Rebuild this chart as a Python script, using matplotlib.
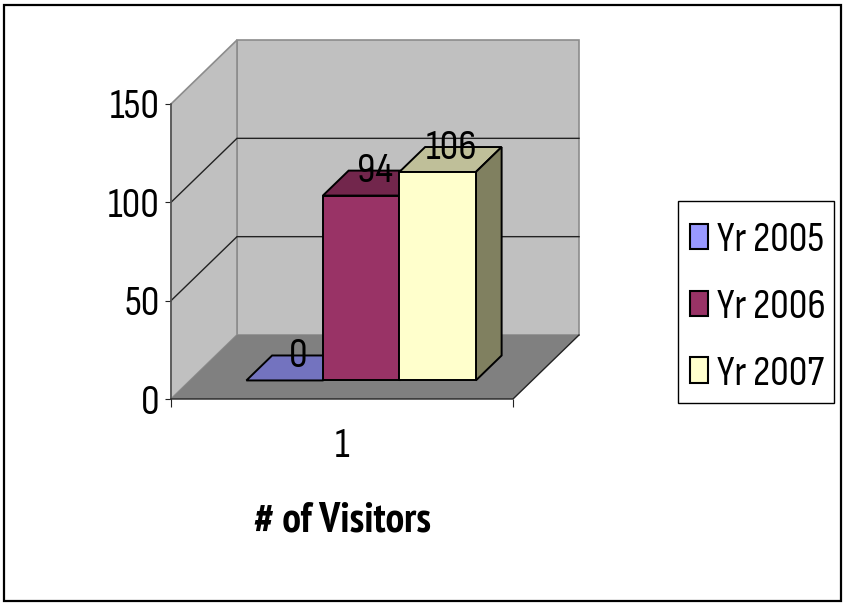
import matplotlib
matplotlib.use("Agg")
import matplotlib.pyplot as plt
from matplotlib import font_manager as fm
from matplotlib.patches import Rectangle, Polygon

series_names = ["Yr 2005", "Yr 2006", "Yr 2007"]
values = [0, 94, 106]
categories = ["1"]
y_ticks = [0, 50, 100, 150]
x_title = "# of Visitors"
front_colors = ["#9999FF", "#993366", "#FFFFCC"]
top_colors = ["#7373BF", "#72264C", "#BFBF99"]
side_colors = ["#7373BF", "#72264C", "#808060"]

names = {f.name for f in fm.fontManager.ttflist}
FONT = next((n for n in ["Sofia Sans Condensed", "Archivo Narrow", "Liberation Sans"] if n in names),
            "DejaVu Sans")
TITLE_FONT = next((n for n in ["PT Sans Narrow", "Roboto Condensed", "Liberation Sans"] if n in names),
                  "DejaVu Sans")
plt.rcParams["font.family"] = [FONT, "Liberation Sans", "DejaVu Sans"]
FS = 30

W, H = 843, 603
fig = plt.figure(figsize=(W / 100, H / 100), dpi=100, facecolor="white")

# outer frame
fig.add_artist(Rectangle((4 / W, 1 - 601 / H), 837 / W, 596 / H, transform=fig.transFigure,
                         fill=False, ec="black", lw=1.6))

# axes occupy the front plane of the 3-D box
L, R, T, B = 171, 513, 104, 399
ax = fig.add_axes([L / W, 1 - B / H, (R - L) / W, (B - T) / H], facecolor="none")
ax.set_xlim(0.5, 1.5)
ax.set_ylim(0, 150)
for s in ax.spines.values():
    s.set_visible(False)

DX = 66 / (R - L)        # x shift of full depth, data units
DY = 64 / (B - T) * 150  # y shift of full depth, data units


def P(x, y, d=0.0):
    return (x + d * DX, y + d * DY)


def poly(pts, fc, ec="none", lw=1.0, z=1):
    ax.add_patch(Polygon(pts, closed=True, fc=fc, ec=ec, lw=lw, zorder=z, clip_on=False,
                         joinstyle="miter"))


x0, x1, ymax = 0.5, 1.5, y_ticks[-1]
# walls and floor
poly([P(x0, 0, 1), P(x1, 0, 1), P(x1, ymax, 1), P(x0, ymax, 1)], "#C0C0C0", "#8C8C8C", 1.2, 1)
poly([P(x0, 0), P(x0, 0, 1), P(x0, ymax, 1), P(x0, ymax)], "#C0C0C0", "#8C8C8C", 1.2, 1)
poly([P(x0, 0), P(x1, 0), P(x1, 0, 1), P(x0, 0, 1)], "#808080", "none", 0, 2)

# gridlines
for v in y_ticks[1:-1]:
    ax.plot(*zip(P(x0, v), P(x0, v, 1), P(x1, v, 1)), color="#222222", lw=1.0, zorder=3,
            clip_on=False, solid_joinstyle="miter")
# axis lines
ax.plot(*zip(P(x0, 0), P(x0, ymax)), color="#555555", lw=1.2, zorder=3, clip_on=False)
ax.plot(*zip(P(x0, 0), P(x1, 0), P(x1, 0, 1)), color="#222222", lw=1.0, zorder=3, clip_on=False)

# bars
bw = 76.5 / (R - L)
cx = 1.0
d0, d1 = 0.29, 0.68
n = len(values)
label_pos = []
for i, (v, fc, tc, sc) in enumerate(zip(values, front_colors, top_colors, side_colors)):
    xl = cx - n * bw / 2 + i * bw
    xr = xl + bw
    z = 5 + i
    poly([P(xl, v, d0), P(xr, v, d0), P(xr, v, d1), P(xl, v, d1)], tc, "black", 1.4, z)
    if v > 0:
        poly([P(xr, 0, d0), P(xr, 0, d1), P(xr, v, d1), P(xr, v, d0)], sc, "black", 1.4, z)
        poly([P(xl, 0, d0), P(xr, 0, d0), P(xr, v, d0), P(xl, v, d0)], fc, "black", 1.4, z)
    label_pos.append(P((xl + xr) / 2, v, 0.5))
for (lx, ly), v in zip(label_pos, values):
    ax.text(lx, ly, str(v), ha="center", va="baseline", fontsize=FS, color="black", zorder=20,
            clip_on=False)

# ticks
ax.set_yticks(y_ticks)
ax.tick_params(axis="y", length=4.3, width=0.8, color="#222222", pad=4, labelsize=FS)
ax.set_xticks([1.0], categories)
ax.set_xticks([0.5, 1.5], minor=True)
ax.tick_params(axis="x", which="major", length=0, pad=21, labelsize=FS)
ax.tick_params(axis="x", which="minor", length=5.8, width=0.8, color="#222222")
ax.set_xlabel(x_title, fontsize=30, fontweight="bold", family=TITLE_FONT, labelpad=26)

# legend
fig.add_artist(Rectangle((678 / W, 1 - 403 / H), 156 / W, 202 / H, transform=fig.transFigure,
                         fc="white", ec="black", lw=1.0, zorder=3))
handles = [Rectangle((0, 0), 1, 1, fc=c, ec="black", lw=1.5) for c in front_colors]
leg = fig.legend(handles, series_names, loc="center left",
                 bbox_to_anchor=(690 / W, 1 - 307.5 / H),
                 fontsize=FS, frameon=False,
                 handlelength=0.43, handleheight=0.56, handletextpad=0.22, labelspacing=0.71,
                 borderpad=0, borderaxespad=0)
leg.set_zorder(4)

fig.savefig("out.png", dpi=100)
